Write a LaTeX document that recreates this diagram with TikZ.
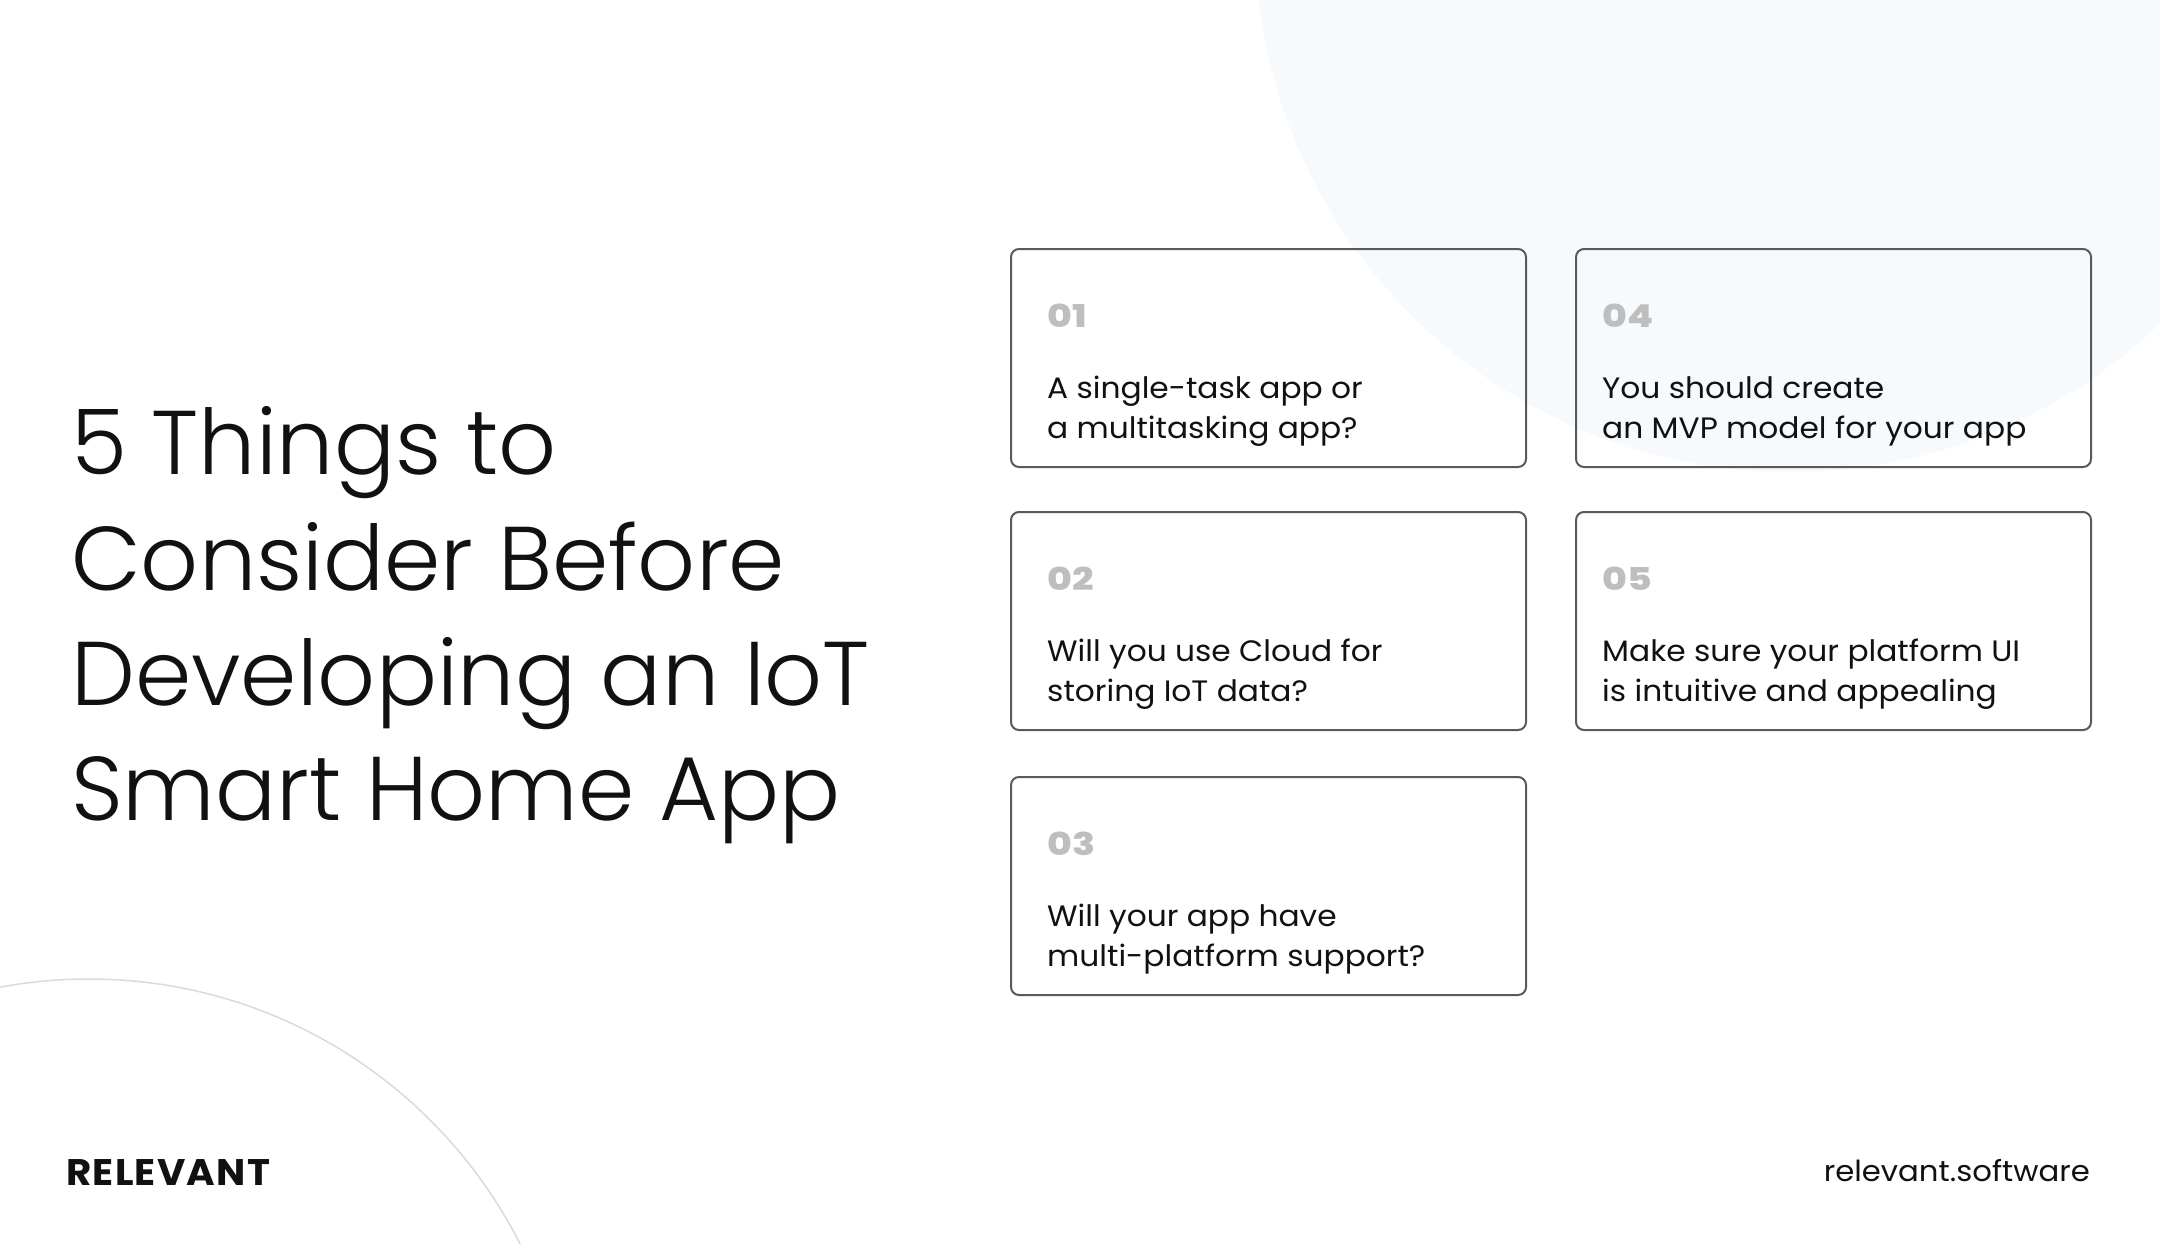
\documentclass[tikz,border=0pt]{standalone}
\usepackage{fontspec}
\setmainfont{Poppins}
\newfontfamily\mylightfont{Poppins Light}
\newfontfamily\mybodyfam{Poppins}[FakeStretch=1.06]
\newfontfamily\mynumfam{Poppins ExtraBold}[FakeStretch=1.2]
\newfontfamily\mylogofam{Poppins Bold}[FakeStretch=1.05,LetterSpace=3.5]
\definecolor{framec}{HTML}{5A5A5A}
\definecolor{numc}{HTML}{BEBEBE}
\definecolor{circc}{HTML}{F7FAFD}
\definecolor{arcc}{HTML}{D5DCE0}
\definecolor{textc}{HTML}{111111}
\newcommand\mytitlefont{\mylightfont\fontsize{90.5}{110}\selectfont}
\newcommand\mybodyfont{\mybodyfam\fontsize{29.5}{34}\selectfont}
\newcommand\mynumberfont{\mynumfam\fontsize{31.5}{34}\selectfont}
\tikzset{
  frame/.style={draw=framec, line width=2pt, rounded corners=8pt, minimum width=515pt, minimum height=218pt, inner sep=0pt, anchor=north west},
  num/.style={anchor=base west, inner sep=0pt, text=numc, font=\mynumberfont},
  body/.style={anchor=base west, inner sep=0pt, text=textc, font=\mybodyfont},
  ttl/.style={anchor=base west, inner sep=0pt, text=textc, font=\mytitlefont},
}
\begin{document}
\begin{tikzpicture}[x=1pt,y=-1pt]
\useasboundingbox (0,0) rectangle (2160,1243);
\fill[white] (0,0) rectangle (2160,1243);
\begin{scope}
\clip (0,0) rectangle (2160,1243);
\fill[circc] (1790,-63) circle[radius=535pt];
\draw[arcc, line width=1.5pt] (89,1462) circle[radius=483pt];
\end{scope}
% title
\node[ttl] (t1) at (71,474) {5 Things to};
\node[ttl] (t2) at (71,590) {Consider Before};
\node[ttl] (t3) at (71,705) {Developing an IoT};
\node[ttl] (t4) at (71,820) {Smart Home App};
% boxes column 1
\node[frame] (b1) at (1010,248) {};
\node[num] (n1) at (1047,327) {01};
\node[body] (a1) at (1047,398) {A single-task app or};
\node[body] (c1) at (1047,438) {a multitasking app?};
\node[frame] (b2) at (1010,511) {};
\node[num] (n2) at (1047,590) {02};
\node[body] (a2) at (1047,661) {Will you use Cloud for};
\node[body] (c2) at (1047,701) {storing IoT data?};
\node[frame] (b3) at (1010,776) {};
\node[num] (n3) at (1047,855) {03};
\node[body] (a3) at (1047,926) {Will your app have};
\node[body] (c3) at (1047,966) {multi-platform support?};
% column 2
\node[frame] (b4) at (1575,248) {};
\node[num] (n4) at (1602,327) {04};
\node[body] (a4) at (1602,398) {You should create};
\node[body] (c4) at (1602,438) {an MVP model for your app};
\node[frame] (b5) at (1575,511) {};
\node[num] (n5) at (1602,590) {05};
\node[body] (a5) at (1602,661) {Make sure your platform UI};
\node[body] (c5) at (1602,701) {is intuitive and appealing};
% footer
\node[anchor=base west, inner sep=0pt, text=textc, font=\mylogofam\fontsize{37}{40}\selectfont] (logo) at (66,1185) {RELEVANT};
\node[anchor=base east, inner sep=0pt, text=textc, font=\mybodyfam\fontsize{29}{32}\selectfont] (site) at (2090,1181) {relevant.software};
\end{tikzpicture}
\end{document}
